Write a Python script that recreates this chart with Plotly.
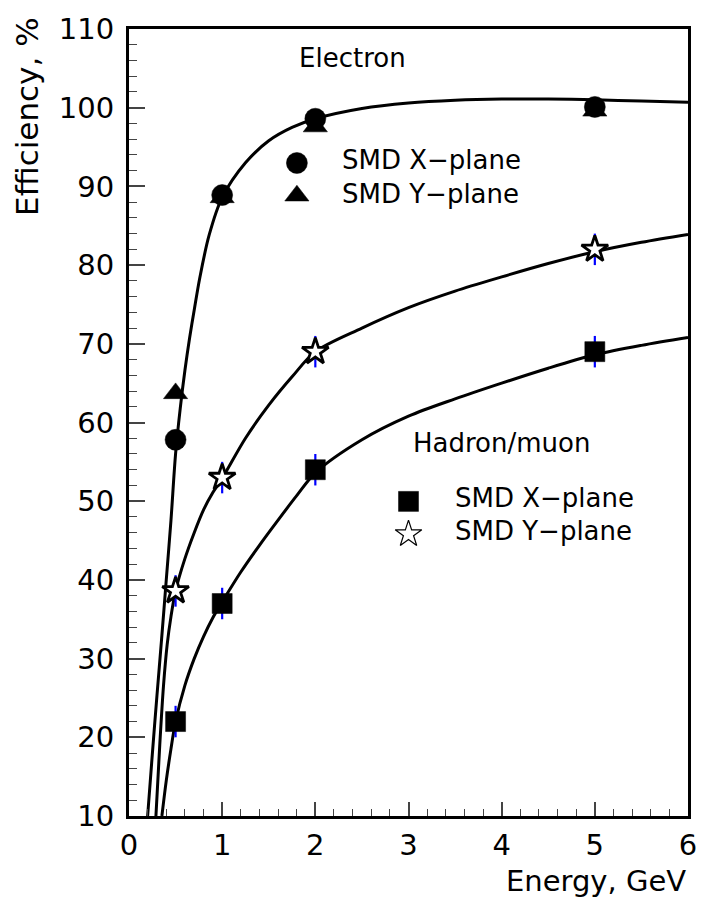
import plotly.graph_objects as go

# Measured efficiencies (%) vs beam energy (GeV)
energy = [0.5, 1.0, 2.0, 5.0]
electron_x = [57.8, 88.9, 98.6, 100.1]
electron_y = [63.7, 88.6, 97.6, 99.6]
hadron_x = [22.0, 37.0, 54.0, 69.0]
hadron_y = [38.6, 53.0, 69.0, 82.0]
hadron_x_err = [2.0, 2.0, 2.0, 2.0]
hadron_y_err = [2.0, 2.0, 2.0, 2.0]

# Fitted curves, sampled along energy
fit_e_x = [0.20, 0.25, 0.30, 0.35, 0.40, 0.45, 0.50, 0.55, 0.60, 0.65, 0.70, 0.76,
           0.86, 1.00, 1.25, 1.50, 1.75, 2.00, 2.50, 3.00, 3.50, 4.00, 4.50, 5.00,
           5.50, 6.00]
fit_e_y = [10.0, 17.8, 25.3, 32.5, 40.0, 47.5, 56.0, 61.8, 66.6, 70.7, 74.3, 78.4,
           83.8, 88.6, 93.0, 95.8, 97.5, 98.6, 99.9, 100.6, 100.95, 101.1, 101.1, 101.0,
           100.85, 100.7]

fit_hy_x = [0.289, 0.33, 0.37, 0.41, 0.45, 0.50, 0.60, 0.70, 0.80, 0.90, 1.00, 1.25,
            1.50, 1.75, 2.00, 2.50, 3.00, 3.50, 4.00, 4.50, 5.00, 5.50, 6.00]
fit_hy_y = [10.0, 19.0, 26.5, 31.8, 35.3, 38.6, 42.7, 46.0, 48.9, 51.1, 52.9, 58.0,
            62.2, 65.8, 69.0, 72.0, 74.6, 76.7, 78.5, 80.2, 81.7, 82.9, 83.9]

fit_hx_x = [0.353, 0.40, 0.45, 0.50, 0.60, 0.70, 0.80, 0.90, 1.00, 1.20, 1.40, 1.60,
            1.80, 2.00, 2.50, 3.00, 3.50, 4.00, 4.50, 5.00, 5.50, 6.00]
fit_hx_y = [10.0, 14.5, 18.5, 22.0, 26.6, 30.0, 32.8, 35.2, 37.2, 41.0, 44.4, 47.6,
            50.7, 53.6, 57.8, 60.8, 63.0, 65.0, 66.9, 68.6, 69.8, 70.8]

x_ticks = [0, 1, 2, 3, 4, 5, 6]
y_ticks = [10, 20, 30, 40, 50, 60, 70, 80, 90, 100, 110]

X_RANGE = [0, 6]
Y_RANGE = [10, 110]

W, H = 709, 907
ML, MR, MT, MB = 129, 14, 23, 91
PW, PH = W - ML - MR, H - MT - MB


def px(xp):
    """page pixel -> plot fraction (x)"""
    return (xp - ML) / PW


def py(yp):
    """page pixel -> plot fraction (y)"""
    return (H - MB - yp) / PH


def dx(xp):
    """page pixel -> axis units (x), used to place the key symbols"""
    return X_RANGE[0] + px(xp) * (X_RANGE[1] - X_RANGE[0])


def dy(yp):
    return Y_RANGE[0] + py(yp) * (Y_RANGE[1] - Y_RANGE[0])


FONT = "DejaVu Sans"
BLUE = "#0000ff"

fig = go.Figure()

# fit curves
for fx, fy in [(fit_e_x, fit_e_y), (fit_hy_x, fit_hy_y), (fit_hx_x, fit_hx_y)]:
    fig.add_trace(go.Scatter(x=fx, y=fy, mode="lines",
                             line=dict(color="black", width=3, shape="spline", smoothing=0.9),
                             hoverinfo="skip"))

# hadron/muon points with error bars
fig.add_trace(go.Scatter(
    x=energy, y=hadron_x, mode="markers",
    error_y=dict(type="data", array=hadron_x_err, color=BLUE, thickness=2.2, width=0),
    marker=dict(symbol="square", size=20, color="black", opacity=1,
                line=dict(color="black", width=0.5))))
fig.add_trace(go.Scatter(
    x=energy, y=hadron_y, mode="markers",
    error_y=dict(type="data", array=hadron_y_err, color=BLUE, thickness=2.2, width=0),
    marker=dict(symbol="star", size=20, color="white", opacity=1,
                line=dict(color="black", width=2.8))))

# electron points
fig.add_trace(go.Scatter(x=energy, y=electron_y, mode="markers",
                         marker=dict(symbol="triangle-up", size=21, color="black", opacity=1,
                                     line=dict(color="black", width=0.5))))
fig.add_trace(go.Scatter(x=energy, y=electron_x, mode="markers",
                         marker=dict(symbol="circle", size=21, color="black", opacity=1,
                                     line=dict(color="black", width=0.5))))

# key symbols
key_symbols = ["circle", "triangle-up", "square"]
fig.add_trace(go.Scatter(
    x=[dx(299), dx(299), dx(412)], y=[dy(158), dy(191), dy(499)],
    mode="markers", cliponaxis=False,
    marker=dict(symbol=key_symbols, size=[21, 21, 20], color="black", opacity=1,
                line=dict(color="black", width=0.5))))
fig.add_trace(go.Scatter(
    x=[dx(412)], y=[dy(532)], mode="markers",
    marker=dict(symbol="star", size=20, color="white", opacity=1,
                line=dict(color="black", width=1.2))))

axis_common = dict(showgrid=False, zeroline=False, showline=True, linewidth=3,
                   linecolor="black", mirror=True, ticks="inside", tickcolor="#444",
                   tickwidth=1.5, tickfont=dict(family=FONT, size=29, color="black"))

fig.update_layout(
    width=W, height=H, showlegend=False,
    margin=dict(l=ML, r=MR, t=MT, b=MB),
    paper_bgcolor="white", plot_bgcolor="white",
    xaxis=dict(range=X_RANGE, tickvals=x_ticks, ticktext=[str(v) for v in x_ticks],
               ticklen=14, ticklabelstandoff=1,
               minor=dict(dtick=0.2, ticklen=7, ticks="inside", tickcolor="#444", tickwidth=1.2),
               **axis_common),
    yaxis=dict(range=Y_RANGE, tickvals=y_ticks, ticktext=[str(v) for v in y_ticks],
               ticklen=16, ticklabelstandoff=6,
               minor=dict(dtick=2, ticklen=8, ticks="inside", tickcolor="#444", tickwidth=1.2),
               **axis_common),
)

ann_font = dict(family=FONT, size=26, color="black")
labels = [
    ("Electron", 355, 52, "center"),
    ("SMD X\u2212plane", 343, 155, "left"),
    ("SMD Y\u2212plane", 343, 189, "left"),
    ("Hadron/muon", 415, 440, "left"),
    ("SMD X\u2212plane", 457, 496, "left"),
    ("SMD Y\u2212plane", 457, 529, "left"),
]
for text, xp, yp, anchor in labels:
    fig.add_annotation(text=text, xref="paper", yref="paper", x=px(xp), y=py(yp),
                       xanchor=anchor, yanchor="middle", showarrow=False, font=ann_font)

# axis titles, placed at the axis ends
fig.add_annotation(text="Energy, GeV", xref="paper", yref="paper", x=1.0, y=py(881),
                   xanchor="right", yanchor="middle", showarrow=False,
                   font=dict(family=FONT, size=29, color="black"))
fig.add_annotation(text="Efficiency, %", xref="paper", yref="paper", x=px(25), y=py(9),
                   xanchor="center", yanchor="top", textangle=-90, showarrow=False,
                   font=dict(family=FONT, size=31, color="black"))

fig.write_html("out.html")
